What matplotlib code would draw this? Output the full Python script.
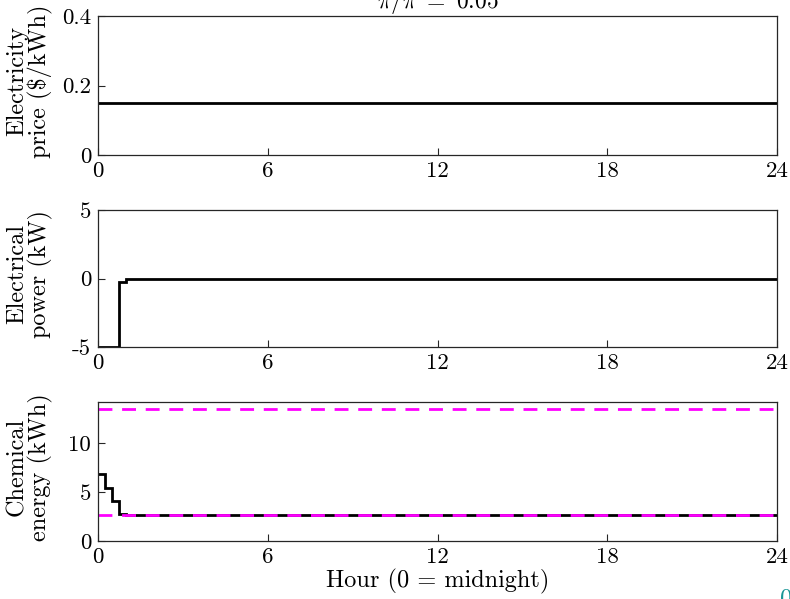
import matplotlib
matplotlib.use("Agg")
import matplotlib.pyplot as plt

plt.rcParams['font.family'] = 'serif'
plt.rcParams['font.serif'] = ['cmr10']
plt.rcParams['mathtext.fontset'] = 'cm'
plt.rcParams['axes.unicode_minus'] = False

# data
price_t = [0, 24]
price = [0.15]

power_t = [0, 0.75, 1.0, 24]
power_kw = [-5, -0.25, 0]

energy_t = [0, 0.25, 0.5, 0.75, 1.0, 24]
energy_kwh = [6.8, 5.45, 4.1, 2.8, 2.7]
energy_max = 13.5
energy_min = 2.7

hour_ticks = [0, 6, 12, 18, 24]

TICK_FS = 16.5
LAB_FS = 17.5
frame_col = '#262626'

fig = plt.figure(figsize=(7.9, 5.99), dpi=100)
L, R = 98 / 790, 777 / 790
W = R - L
boxes = [(16, 155), (210, 347), (402, 541)]
axs = []
for top, bot in boxes:
    ax = fig.add_axes([L, 1 - bot / 599, W, (bot - top) / 599])
    axs.append(ax)

def style(ax):
    ax.set_xlim(0, 24)
    ax.set_xticks(hour_ticks)
    ax.set_xticklabels([str(h) for h in hour_ticks])
    ax.tick_params(direction='in', length=5, width=0.8, labelsize=TICK_FS,
                   top=False, right=False, color=frame_col, pad=5)
    for s in ax.spines.values():
        s.set_color(frame_col)
        s.set_linewidth(0.9)

ax = axs[0]
ax.stairs(price, price_t, color='black', lw=2, baseline=None)
ax.set_ylim(0, 0.4)
ax.set_yticks([0, 0.2, 0.4])
ax.set_yticklabels(['0', '0.2', '0.4'])
ax.set_ylabel('Electricity\nprice (\\$/kWh)', fontsize=LAB_FS, linespacing=1.0)
ax.set_title(r'$\pi/\bar{\pi}\ =\ 0.05$', fontsize=17, pad=6)
style(ax)

ax = axs[1]
ax.stairs(power_kw, power_t, color='black', lw=2, baseline=None)
ax.set_ylim(-5, 5)
ax.set_yticks([-5, 0, 5])
ax.set_yticklabels(['-5', '0', '5'])
ax.set_ylabel('Electrical\npower (kW)', fontsize=LAB_FS, linespacing=1.0)
style(ax)

ax = axs[2]
ax.stairs(energy_kwh, energy_t, color='black', lw=2, baseline=None)
ax.axhline(energy_max, color='#ff00ff', lw=2, ls=(0, (5, 3.5)))
ax.axhline(energy_min, color='#ff00ff', lw=2, ls=(0, (5, 3.5)))
ax.set_ylim(0, 14.2)
ax.set_yticks([0, 5, 10])
ax.set_yticklabels(['0', '5', '10'])
ax.set_ylabel('Chemical\nenergy (kWh)', fontsize=LAB_FS, linespacing=1.0)
ax.set_xlabel('Hour (0 = midnight)', fontsize=17.5, labelpad=1)
style(ax)

for ax in axs:
    ax.yaxis.set_label_coords(-0.066, 0.53)

fig.text(780 / 790, 1 - 588 / 599, '0', color='#1a9696', fontsize=18,
         ha='left', va='top')

fig.savefig('out.png', dpi=100)
